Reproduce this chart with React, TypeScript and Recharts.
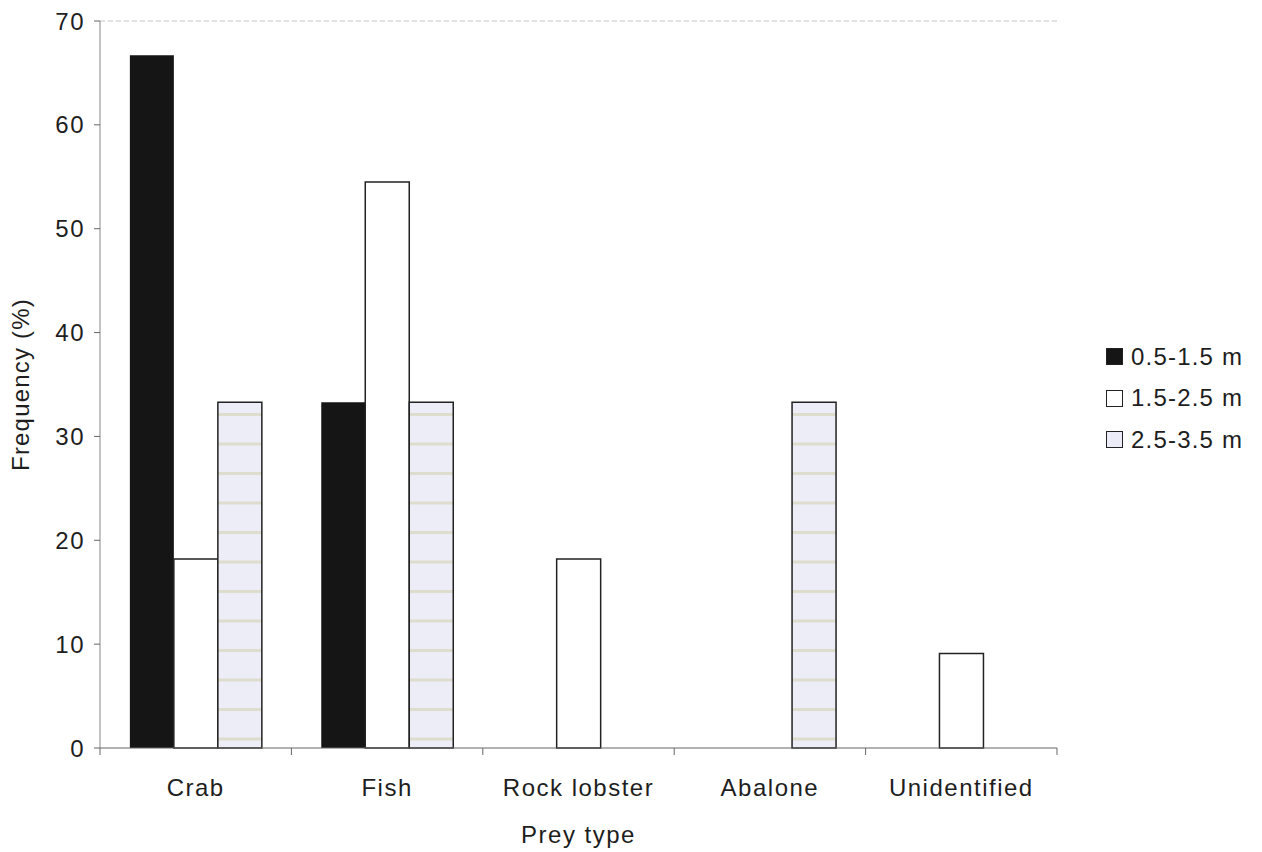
import React from 'react';
import { BarChart, Bar, XAxis, YAxis, ReferenceLine } from 'recharts';

const categories = ['Crab', 'Fish', 'Rock lobster', 'Abalone', 'Unidentified'];
const size05to15 = [66.7, 33.3, 0, 0, 0];
const size15to25 = [18.2, 54.5, 18.2, 0, 9.1];
const size25to35 = [33.3, 33.3, 0, 33.3, 0];
const seriesNames = ['0.5-1.5 m', '1.5-2.5 m', '2.5-3.5 m'];
const yTicks = [0, 10, 20, 30, 40, 50, 60, 70];

const data = categories.map((c, i) => ({
  name: c,
  a: size05to15[i],
  b: size15to25[i],
  c: size25to35[i],
}));

const FONT = 'Liberation Sans, Arial, sans-serif';
const TEXT = '#1e1e1e';
const AXIS = '#666666';
const X_TICK_SIZE = 6;
const X_TICK_MARGIN = 25;

const legendItems = [
  { name: seriesNames[0], fill: '#151515' },
  { name: seriesNames[1], fill: '#ffffff' },
  { name: seriesNames[2], fill: '#ececf8' },
];

const LegendBox = () => (
  <div
    style={{
      position: 'absolute',
      left: 1106,
      top: 336,
      fontFamily: FONT,
      fontSize: 24,
      letterSpacing: '1.2px',
      color: TEXT,
    }}
  >
    {legendItems.map((it) => (
      <div key={it.name} style={{ display: 'flex', alignItems: 'center', height: 41.5 }}>
        <span
          style={{
            display: 'inline-block',
            boxSizing: 'border-box',
            width: 17,
            height: 17,
            background: it.fill,
            border: '1.5px solid #222',
            marginRight: 8,
          }}
        />
        <span>{it.name}</span>
      </div>
    ))}
  </div>
);

const XTick = (props: any) => {
  const { x, y, payload, index, visibleTicksCount } = props;
  const half = payload && payload.offset ? payload.offset : 0;
  const axisY = y - X_TICK_SIZE - X_TICK_MARGIN;
  const isLast = index === visibleTicksCount - 1;
  return (
    <g>
      <line x1={x - half} x2={x - half} y1={axisY} y2={axisY + 7} stroke={AXIS} />
      {isLast && <line x1={x + half} x2={x + half} y1={axisY} y2={axisY + 7} stroke={AXIS} />}
      <text
        x={x}
        y={y}
        dy="0.71em"
        textAnchor="middle"
        fontFamily={FONT}
        fontSize={24}
        fill={TEXT}
        style={{ letterSpacing: '1.5px' }}
      >
        {payload.value}
      </text>
    </g>
  );
};

const YTick = (props: any) => {
  const { x, y, payload } = props;
  return (
    <text
      x={x}
      y={y}
      dy="0.355em"
      textAnchor="end"
      fontFamily={FONT}
      fontSize={24}
      fill={TEXT}
      style={{ letterSpacing: '1.5px' }}
    >
      {payload.value}
    </text>
  );
};

export default function App() {
  return (
    <div style={{ position: 'absolute', left: 0, top: 0, width: 1262, height: 852, background: '#fff' }}>
      <BarChart
        width={1262}
        height={852}
        data={data}
        margin={{ top: 21, right: 205, left: 40, bottom: 54 }}
        barCategoryGap="15.6%"
        barGap={0}
      >
        <defs>
          <pattern id="stripes" patternUnits="userSpaceOnUse" width="8" height="29.5">
            <rect x="0" y="0" width="8" height="29.5" fill="#ededf8" />
            <rect x="0" y="0" width="8" height="3" fill="#dedccd" />
          </pattern>
        </defs>
        <XAxis
          dataKey="name"
          tickLine={false}
          axisLine={{ stroke: AXIS, strokeWidth: 1.2 }}
          tick={<XTick />}
          tickSize={X_TICK_SIZE}
          tickMargin={X_TICK_MARGIN}
          height={50}
          interval={0}
          label={{
            value: 'Prey type',
            position: 'insideBottom',
            offset: -45,
            fontSize: 24,
            fill: TEXT,
            fontFamily: FONT,
            style: { letterSpacing: '1.5px' },
          }}
        />
        <YAxis
          domain={[0, 70]}
          ticks={yTicks}
          width={60}
          axisLine={{ stroke: '#888', strokeWidth: 1 }}
          tickLine={{ stroke: AXIS }}
          tickSize={6}
          tickMargin={9}
          tick={<YTick />}
          label={{
            value: 'Frequency (%)',
            angle: -90,
            position: 'insideLeft',
            offset: -20,
            fontSize: 24,
            fill: TEXT,
            fontFamily: FONT,
            style: { textAnchor: 'middle', letterSpacing: '1.2px' },
          }}
        />
        <YAxis
          yAxisId="right"
          orientation="right"
          domain={[0, 70]}
          ticks={yTicks}
          width={0}
          tick={false}
          tickLine={false}
          axisLine={{ stroke: '#c4c4c4', strokeDasharray: '5 3' }}
        />
        <ReferenceLine y={70} stroke="#c4c4c4" strokeDasharray="5 3" />
        <Bar dataKey="a" name={seriesNames[0]} fill="#151515" isAnimationActive={false} />
        <Bar dataKey="b" name={seriesNames[1]} fill="#ffffff" stroke="#222" strokeWidth={1.5} isAnimationActive={false} />
        <Bar
          dataKey="c"
          yAxisId="right"
          name={seriesNames[2]}
          fill="url(#stripes)"
          stroke="#222"
          strokeWidth={1.5}
          isAnimationActive={false}
        />
      </BarChart>
      <LegendBox />
    </div>
  );
}
